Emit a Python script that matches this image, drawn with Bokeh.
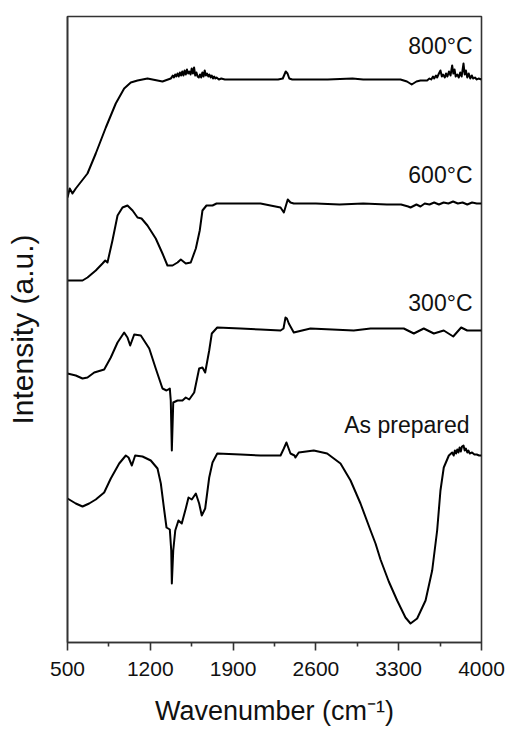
from bokeh.plotting import figure
from bokeh.models import Range1d, FixedTicker, Label
from bokeh.embed import file_html
from bokeh.resources import INLINE

# Wavenumber (cm-1) and intensity (a.u.)
wn_800 = [500, 519, 542, 570, 669, 739, 824, 908, 979, 1035, 1092, 1176, 1303, 1373,
          1380, 1390, 1400, 1410, 1420, 1430, 1440, 1450, 1460, 1470, 1480, 1490, 1500,
          1510, 1520, 1530, 1540, 1550, 1560, 1570, 1580, 1590, 1600, 1610, 1620, 1630,
          1640, 1650, 1660, 1670, 1680, 1690, 1700, 1710, 1720, 1730, 1740, 1750, 1760,
          1780, 1800, 1830, 1860, 2000, 2200, 2280, 2320, 2345, 2360, 2375, 2400, 2500,
          2700, 2909, 3000, 3200, 3315, 3370, 3410, 3450, 3484, 3540, 3560, 3575, 3590,
          3600, 3615, 3625, 3640, 3653, 3665, 3675, 3690, 3700, 3712, 3725, 3738, 3752,
          3762, 3772, 3782, 3795, 3808, 3820, 3832, 3848, 3858, 3868, 3880, 3892, 3905,
          3918, 3930, 3945, 3960, 3975, 4000]
int_800 = [446, 455, 450, 455, 470, 490, 516, 540, 555, 561, 563, 565, 562, 565,
           566, 568, 566, 569, 567, 570, 567, 571, 568, 572, 568, 573, 569,
           574, 570, 572, 569, 575, 570, 576, 568, 571, 567, 566, 569, 566,
           571, 567, 573, 568, 570, 567, 569, 566, 568, 565, 567, 565, 566,
           564, 565, 564, 564, 564, 564, 564, 565, 572, 570, 565, 564, 564,
           564, 565, 564, 564, 564, 562, 559, 562, 563, 563, 565, 564, 567,
           565, 568, 566, 570, 573, 567, 569, 566, 570, 567, 572, 568, 578,
           570, 574, 567, 569, 566, 571, 567, 580, 569, 573, 566, 570, 565,
           568, 565, 566, 564, 565, 564]

wn_600 = [500, 627, 669, 739, 796, 819, 838, 880, 923, 965, 1007, 1050, 1092, 1126,
          1176, 1246, 1303, 1345, 1388, 1430, 1458, 1500, 1542, 1585, 1618, 1641, 1675,
          1726, 1760, 1963, 2132, 2216, 2301, 2329, 2362, 2385, 2413, 2600, 2800, 3000,
          3200, 3320, 3380, 3400, 3450, 3484, 3520, 3560, 3600, 3640, 3680, 3720, 3760,
          3800, 3840, 3880, 3920, 3960, 4000]
int_600 = [363, 363, 366, 373, 380, 383, 381, 403, 428, 436, 438, 433, 426, 425,
           418, 405, 390, 378, 378, 381, 384, 380, 381, 395, 413, 433, 438,
           438, 440, 440, 440, 438, 436, 431, 444, 441, 440, 440, 439, 440,
           439, 439, 437, 436, 439, 437, 440, 439, 441, 439, 441, 440, 442,
           440, 441, 439, 441, 440, 440]

wn_300 = [500, 570, 627, 669, 726, 810, 866, 923, 979, 1007, 1030, 1064, 1120, 1191,
          1246, 1303, 1337, 1365, 1373, 1382, 1394, 1430, 1472, 1500, 1529, 1571, 1613,
          1641, 1664, 1698, 1720, 1766, 1963, 2132, 2301, 2326, 2343, 2355, 2371, 2413,
          2554, 2920, 3062, 3343, 3428, 3512, 3597, 3681, 3761, 3828, 3879, 4000]
int_300 = [270, 268, 265, 266, 271, 274, 286, 301, 311, 306, 298, 309, 308, 295,
           275, 255, 253, 255, 243, 193, 241, 243, 243, 246, 244, 251, 275,
           276, 271, 293, 310, 316, 315, 314, 313, 315, 326, 325, 320, 311,
           315, 313, 315, 315, 310, 315, 310, 313, 307, 316, 313, 313]

wn_ap = [500, 570, 627, 683, 739, 810, 866, 937, 993, 1016, 1044, 1072, 1134, 1204,
         1261, 1289, 1318, 1337, 1365, 1377, 1382, 1394, 1411, 1438, 1466, 1500, 1523,
         1551, 1585, 1613, 1635, 1664, 1698, 1726, 1766, 1963, 2132, 2301, 2329, 2351,
         2385, 2419, 2427, 2455, 2582, 2695, 2808, 2893, 2977, 3062, 3104, 3146, 3216, 3287,
         3357, 3400, 3456, 3527, 3583, 3625, 3653, 3681, 3724, 3752, 3765, 3775, 3785,
         3795, 3805, 3815, 3825, 3835, 3848, 3858, 3868, 3880, 3890, 3900, 3920, 3940,
         3960, 3980, 4000]
int_ap = [145, 140, 137, 140, 144, 151, 165, 180, 188, 186, 178, 188, 187, 183,
          175, 160, 133, 116, 114, 93, 60, 93, 113, 123, 120, 135, 146,
          144, 150, 140, 128, 135, 166, 181, 190, 189, 188, 188, 195, 201,
          190, 188, 186, 191, 193, 190, 180, 163, 140, 113, 100, 84, 62, 43,
          26, 20, 25, 43, 73, 113, 153, 176, 188, 191, 188, 193, 190,
          194, 191, 196, 192, 197, 198, 193, 195, 191, 193, 190, 191, 189,
          189, 188, 188]

series_names = ["800°C", "600°C", "300°C", "As prepared"]
x_ticks = [500, 1200, 1900, 2600, 3300, 4000]
x_minor = [850, 1550, 2250, 2950, 3650]

FONT = "Liberation Sans"
INK = "#111111"

p = figure(frame_width=414, frame_height=626, output_backend="svg",
           toolbar_location=None, x_range=Range1d(500, 4000),
           y_range=Range1d(1, 627),
           min_border_left=67, min_border_right=29, min_border_top=16,
           min_border_bottom=87)

p.xgrid.visible = False
p.ygrid.visible = False
p.outline_line_color = "#333333"
p.outline_line_width = 1.6
p.background_fill_color = "white"
p.border_fill_color = "white"

for xs, ys in [(wn_800, int_800), (wn_600, int_600), (wn_300, int_300), (wn_ap, int_ap)]:
    p.line(xs, ys, line_color="black", line_width=2, line_join="round")

xa = p.xaxis[0]
xa.ticker = FixedTicker(ticks=x_ticks, minor_ticks=x_minor)
xa.axis_line_color = "#333333"
xa.axis_line_width = 1.6
xa.major_tick_line_color = "#333333"
xa.major_tick_line_width = 1.6
xa.minor_tick_line_color = "#333333"
xa.minor_tick_line_width = 1.6
xa.major_tick_in = 0
xa.major_tick_out = 8
xa.minor_tick_in = 0
xa.minor_tick_out = 4
xa.major_label_standoff = 11
xa.major_label_text_font = FONT
xa.major_label_text_font_size = "21px"
xa.major_label_text_color = INK
xa.axis_label = "Wavenumber (cm⁻¹)"
xa.axis_label_text_font = FONT
xa.axis_label_text_font_size = "27px"
xa.axis_label_text_font_style = "normal"
xa.axis_label_text_color = INK
xa.axis_label_standoff = 17

ya = p.yaxis[0]
ya.ticker = FixedTicker(ticks=[])
ya.axis_line_color = "#333333"
ya.axis_line_width = 1.6
ya.major_tick_line_color = None
ya.minor_tick_line_color = None
ya.major_label_text_font_size = "0px"
ya.axis_label = "Intensity (a.u.)"
ya.axis_label_text_font = FONT
ya.axis_label_text_font_size = "30px"
ya.axis_label_text_font_style = "normal"
ya.axis_label_text_color = INK
ya.axis_label_standoff = 29

label_pos = [(3924, 598), (3924, 469), (3924, 341), (3899, 219)]
for name, (lx, ly) in zip(series_names, label_pos):
    p.add_layout(Label(x=lx, y=ly, text=name, text_align="right",
                       text_baseline="middle", text_font=FONT,
                       text_font_size="23px", text_color=INK))

open("out.html", "w").write(file_html(p, INLINE))
